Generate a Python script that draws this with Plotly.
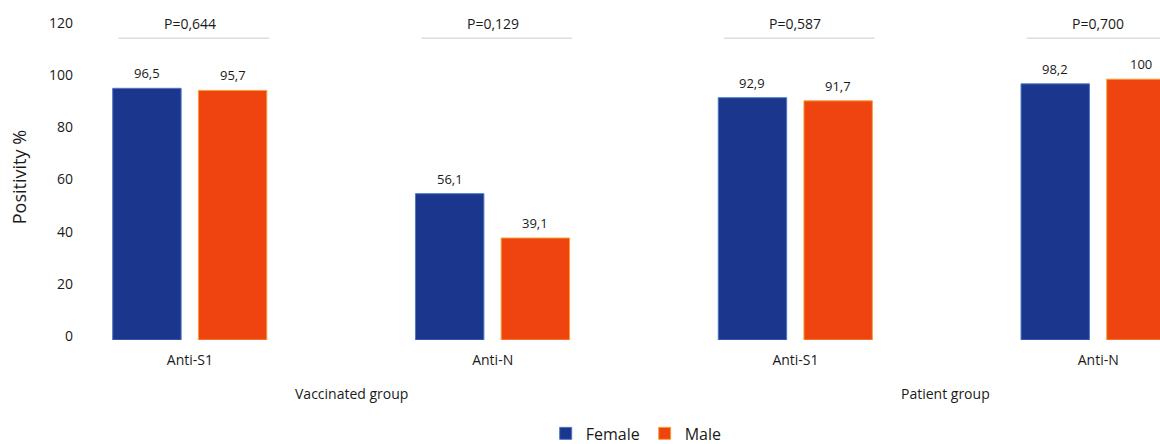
import plotly.graph_objects as go

# ---- data ----
categories = ["Anti-S1", "Anti-N", "Anti-S1", "Anti-N"]
female = [96.5, 56.1, 92.9, 98.2]
male = [95.7, 39.1, 91.7, 100]
p_values = ["P=0,644", "P=0,129", "P=0,587", "P=0,700"]
groups = ["Vaccinated group", "Patient group"]
y_ticks = [0, 20, 40, 60, 80, 100, 120]

def fmt(v):
    return ("%g" % v).replace(".", ",")

xpos = list(range(len(categories)))
FONT = "Open Sans"
TXT = "#1a1a1a"
BLUE = "#1B368D"
ORANGE = "#F04410"
F_OFF, M_OFF, BW = -0.255, 0.028, 0.226

fig = go.Figure()
fig.add_trace(go.Bar(
    x=xpos, y=female, name="Female",
    width=BW, offset=F_OFF,
    marker=dict(color=BLUE, line=dict(color="#4f78c4", width=1)),
))
fig.add_trace(go.Bar(
    x=xpos, y=male, name="Male",
    width=BW, offset=M_OFF,
    marker=dict(color=ORANGE, line=dict(color="#f3a23a", width=1)),
))

# value labels above bars
for vals, off in ((female, F_OFF), (male, M_OFF)):
    for i, v in enumerate(vals):
        fig.add_annotation(x=i + off + BW / 2, y=v, xref="x", yref="y",
                           text=fmt(v), showarrow=False, yanchor="bottom",
                           yshift=4,
                           font=dict(family=FONT, size=13, color=TXT))

# P-value brackets
for i, p in enumerate(p_values):
    fig.add_shape(type="line", xref="x", yref="y",
                  x0=i - 0.236, x1=i + 0.262, y0=115.7, y1=115.7,
                  line=dict(color="#dedede", width=1.5))
    fig.add_annotation(x=i, y=1.0096, xref="x", yref="paper", text=p,
                       showarrow=False, yanchor="middle",
                       font=dict(family=FONT, size=14, color=TXT))

# group labels
for gx, g in zip([0.535, 2.494], groups):
    fig.add_annotation(x=gx, y=-0.1725, xref="x", yref="paper", text=g,
                       showarrow=False, yanchor="middle",
                       font=dict(family=FONT, size=14, color=TXT))

# y-axis title
fig.add_annotation(x=-0.0565, y=0.52, xref="paper", yref="paper",
                   text="Positivity %", textangle=-90, showarrow=False,
                   xanchor="center", yanchor="middle",
                   font=dict(family=FONT, size=18, color=TXT))

fig.update_layout(
    width=1160, height=444,
    margin=dict(l=80, r=0, t=27, b=104),
    paper_bgcolor="white", plot_bgcolor="white",
    barmode="overlay",
    showlegend=True,
    legend=dict(orientation="h", x=0.515, xanchor="center",
                yref="container", y=0.062, yanchor="top",
                font=dict(family=FONT, size=16, color=TXT),
                traceorder="normal", itemwidth=30),
    font=dict(family=FONT, size=14, color=TXT),
)
fig.update_xaxes(range=[-0.363, 3.204], tickmode="array", tickvals=xpos,
                 ticktext=categories, showgrid=False, zeroline=False,
                 showline=False, ticks="", ticklabelstandoff=10,
                 automargin=False,
                 tickfont=dict(family=FONT, size=14, color=TXT))
fig.update_yaxes(range=[0, 120], tickmode="array", tickvals=y_ticks,
                 showgrid=False, zeroline=False, showline=False, ticks="",
                 ticklabelstandoff=6, ticklabelshift=-4, automargin=False,
                 tickfont=dict(family=FONT, size=14, color=TXT))

fig.write_html("out.html", config={"displayModeBar": False},
               post_script="document.body.style.margin='0';")
